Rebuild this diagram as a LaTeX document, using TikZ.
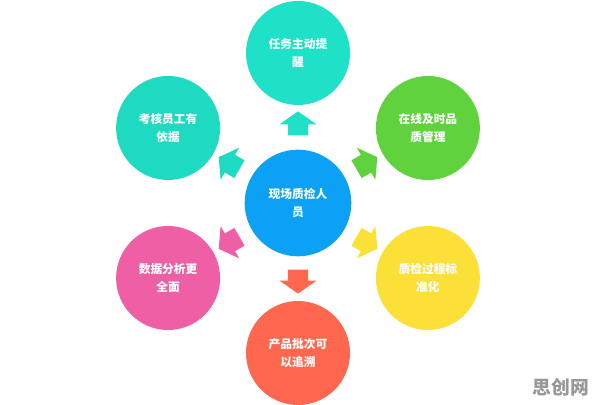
\documentclass[tikz,border=0pt]{standalone}
\usepackage{fontspec}
\newfontfamily\cjk{Noto Sans CJK SC}
\usetikzlibrary{shapes.arrows}
\definecolor{hubblue}{RGB}{13,161,246}
\definecolor{tealone}{RGB}{30,225,200}
\definecolor{tealtwo}{RGB}{30,218,192}
\definecolor{limegreen}{RGB}{95,210,62}
\definecolor{sunyellow}{RGB}{250,224,55}
\definecolor{coral}{RGB}{255,104,78}
\definecolor{rosepink}{RGB}{238,95,165}
\tikzset{
  bubble/.style={circle, minimum size=3.12cm, inner sep=0pt, text=white, align=center,
    font=\cjk\bfseries\fontsize{10}{16}\selectfont},
  fatarrow/.style={single arrow, draw=none, minimum height=0.72cm, minimum width=1.1cm,
    inner xsep=0pt, inner ysep=0.3cm, single arrow head extend=0.25cm, single arrow tip angle=110}
}
\begin{document}
\begin{tikzpicture}[x=0.03cm, y=0.03cm]
        \useasboundingbox (-298,-202) rectangle (298,203);
        \node[bubble, fill=hubblue, minimum size=3.2cm] (0) at (0,0) {现场质检人\\员};
        \node[bubble, fill=tealone] (1) at (90:150) {任务主动提\\醒};
        \node[bubble, fill=limegreen] (2) at (30:150) {在线及时品\\质管理};
        \node[bubble, fill=sunyellow] (3) at (-30:150) {质检过程标\\准化};
        \node[bubble, fill=coral] (4) at (-90:150) {产品批次可\\以追溯};
        \node[bubble, fill=rosepink] (5) at (210:150) {数据分析更\\全面};
        \node[bubble, fill=tealtwo] (6) at (150:150) {考核员工有\\依据};

        % arrows from the hub
        \node[fatarrow, fill=tealone, rotate=90] (a1) at (90:76) {};
        \node[fatarrow, fill=limegreen, rotate=30] (a2) at (30:76) {};
        \node[fatarrow, fill=sunyellow, rotate=-30] (a3) at (-30:76) {};
        \node[fatarrow, fill=coral, rotate=-90] (a4) at (-90:75) {};
        \node[fatarrow, fill=rosepink, rotate=210] (a5) at (210:76) {};
        \node[fatarrow, fill=tealtwo, rotate=150] (a6) at (150:76) {};

        \node[text=black!40, font=\cjk\bfseries\fontsize{16}{18}\selectfont] (w) at (263,-184) {思创网};
      \end{tikzpicture}
\end{document}
